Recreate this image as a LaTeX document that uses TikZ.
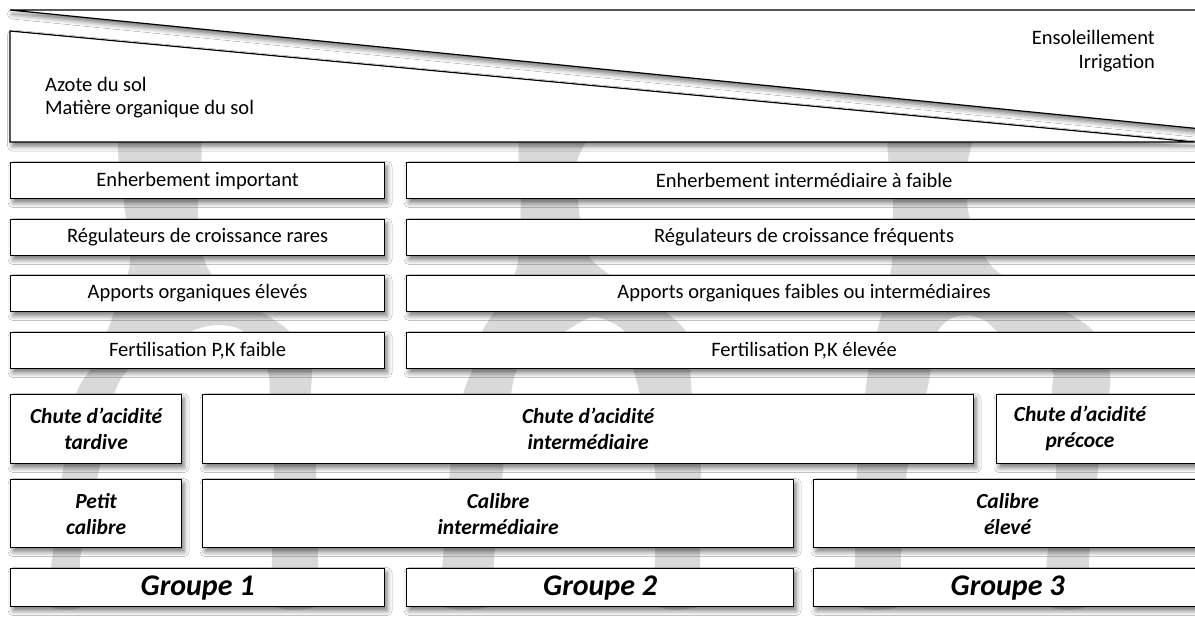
\documentclass[tikz,border=0pt]{standalone}
\usepackage{fontspec}
\setmainfont{Carlito}
\usetikzlibrary{shadows.blur}
\tikzset{
  wm/.style={fill=black!15, draw=none},
  shd/.style={blur shadow={shadow xshift=2.5pt, shadow yshift=-4pt, shadow blur radius=5pt, shadow opacity=55}},
  box/.style={draw, line width=1.2pt, fill=white, shd, inner sep=0pt, anchor=north west, align=center},
  tri/.style={draw, line width=1.2pt, fill=white, shd},
  nt/.style={font=\fontsize{20.5}{23.5}\selectfont},
  bi/.style={font=\fontsize{21.5}{26}\selectfont\bfseries\itshape},
  gr/.style={font=\fontsize{30}{32}\selectfont\bfseries\itshape},
  lbl/.style={inner sep=0pt, align=center}
}
\begin{document}
\begin{tikzpicture}[x=1pt, y=-1pt]
\useasboundingbox (0,0) rectangle (1195,619);
\clip (0,0) rectangle (1195,619);
\fill[white] (0,0) rectangle (1195,619);
% watermark shapes
\fill[wm] plot[smooth cycle, tension=0.5] coordinates {(122,130) (124,200) (130,262) (118,300) (107,332) (91,368) (76,395) (63,470) (52,560) (48,605) (84,605) (80,560) (99,470) (114,395) (130,368) (160,354) (190,332) (217,325) (244,332) (267,369) (270,395) (274,470) (272,560) (272,605) (318,605) (318,560) (316,470) (311,395) (311,368) (290,332) (259,310) (210,272) (198,219) (197,130)};
\fill[wm] plot[smooth cycle, tension=0.5] coordinates {(523,130) (521,200) (518,262) (505,295) (482,332) (473,368) (463,395) (450,470) (443,560) (440,605) (492,605) (494,560) (503,470) (511,395) (518,368) (540,345) (564,332) (594,317) (625,332) (633,368) (640,395) (655,470) (655,560) (655,605) (700,605) (700,560) (701,470) (692,395) (690,368) (688,335) (663,310) (610,275) (587,253) (579,210) (577,162) (587,130)};
\fill[wm] plot[smooth cycle, tension=0.5] coordinates {(892,130) (893,200) (892,262) (885,300) (877,332) (869,368) (865,395) (857,470) (855,560) (855,605) (901,605) (901,560) (907,470) (926,395) (931,368) (936,335) (948,320) (966,315) (984,320) (998,332) (1025,352) (1052,370) (1052,395) (1056,470) (1047,560) (1047,605) (1089,605) (1089,560) (1098,470) (1109,395) (1109,368) (1094,332) (1063,310) (1002,275) (983,253) (968,210) (968,162) (968,130)};
% top wedges
\draw[tri] (10,10) -- (1215,10) -- (1215,130.3) -- cycle;
\draw[tri] (10,31) -- (1195,142) -- (10,142) -- cycle;
\node[nt, lbl, anchor=east] (sun) at (1155,52) {\begin{tabular}{@{}r@{}}Ensoleillement\\Irrigation\end{tabular}};
\node[nt, lbl, anchor=west] (soil) at (45,98.5) {\begin{tabular}{@{}l@{}}Azote du sol\\Matière organique du sol\end{tabular}};
% rows 1-4
\node[box, nt, minimum width=374pt, minimum height=36pt] (e1) at (10,162) {Enherbement important};
\node[box, nt, minimum width=795pt, minimum height=36pt] (e2) at (406,162) {Enherbement intermédiaire à faible};
\node[box, nt, minimum width=374pt, minimum height=36pt] (r1) at (10,219) {Régulateurs de croissance rares};
\node[box, nt, minimum width=795pt, minimum height=36pt] (r2) at (406,219) {Régulateurs de croissance fréquents};
\node[box, nt, minimum width=374pt, minimum height=36pt] (a1) at (10,275) {Apports organiques élevés};
\node[box, nt, minimum width=795pt, minimum height=36pt] (a2) at (406,275) {Apports organiques faibles ou intermédiaires};
\node[box, nt, minimum width=374pt, minimum height=36pt] (f1) at (10,332) {Fertilisation P,K faible};
\node[box, nt, minimum width=795pt, minimum height=36pt] (f2) at (406,332) {Fertilisation P,K élevée};
% row 5
\node[box, bi, minimum width=171pt, minimum height=69pt] (c1) at (10,394) {Chute d’acidité\\tardive};
\node[box, bi, minimum width=771pt, minimum height=69pt] (c2) at (202,394) {Chute d’acidité\\intermédiaire};
\node[box, minimum width=215pt, minimum height=69pt] (c3) at (996,394) {};
\node[bi, lbl] (c3t) at (1080,428.5) {Chute d’acidité\\précoce};
% row 6
\node[box, bi, minimum width=171pt, minimum height=68pt] (k1) at (10,479) {Petit\\calibre};
\node[box, bi, minimum width=591pt, minimum height=68pt] (k2) at (202,479) {Calibre\\intermédiaire};
\node[box, bi, minimum width=388pt, minimum height=68pt] (k3) at (813,479) {Calibre\\élevé};
% row 7
\node[box, gr, minimum width=374pt, minimum height=38pt] (g1) at (10,568) {Groupe 1};
\node[box, gr, minimum width=387pt, minimum height=38pt] (g2) at (406,568) {Groupe 2};
\node[box, gr, minimum width=388pt, minimum height=38pt] (g3) at (813,568) {Groupe 3};
\end{tikzpicture}
\end{document}
